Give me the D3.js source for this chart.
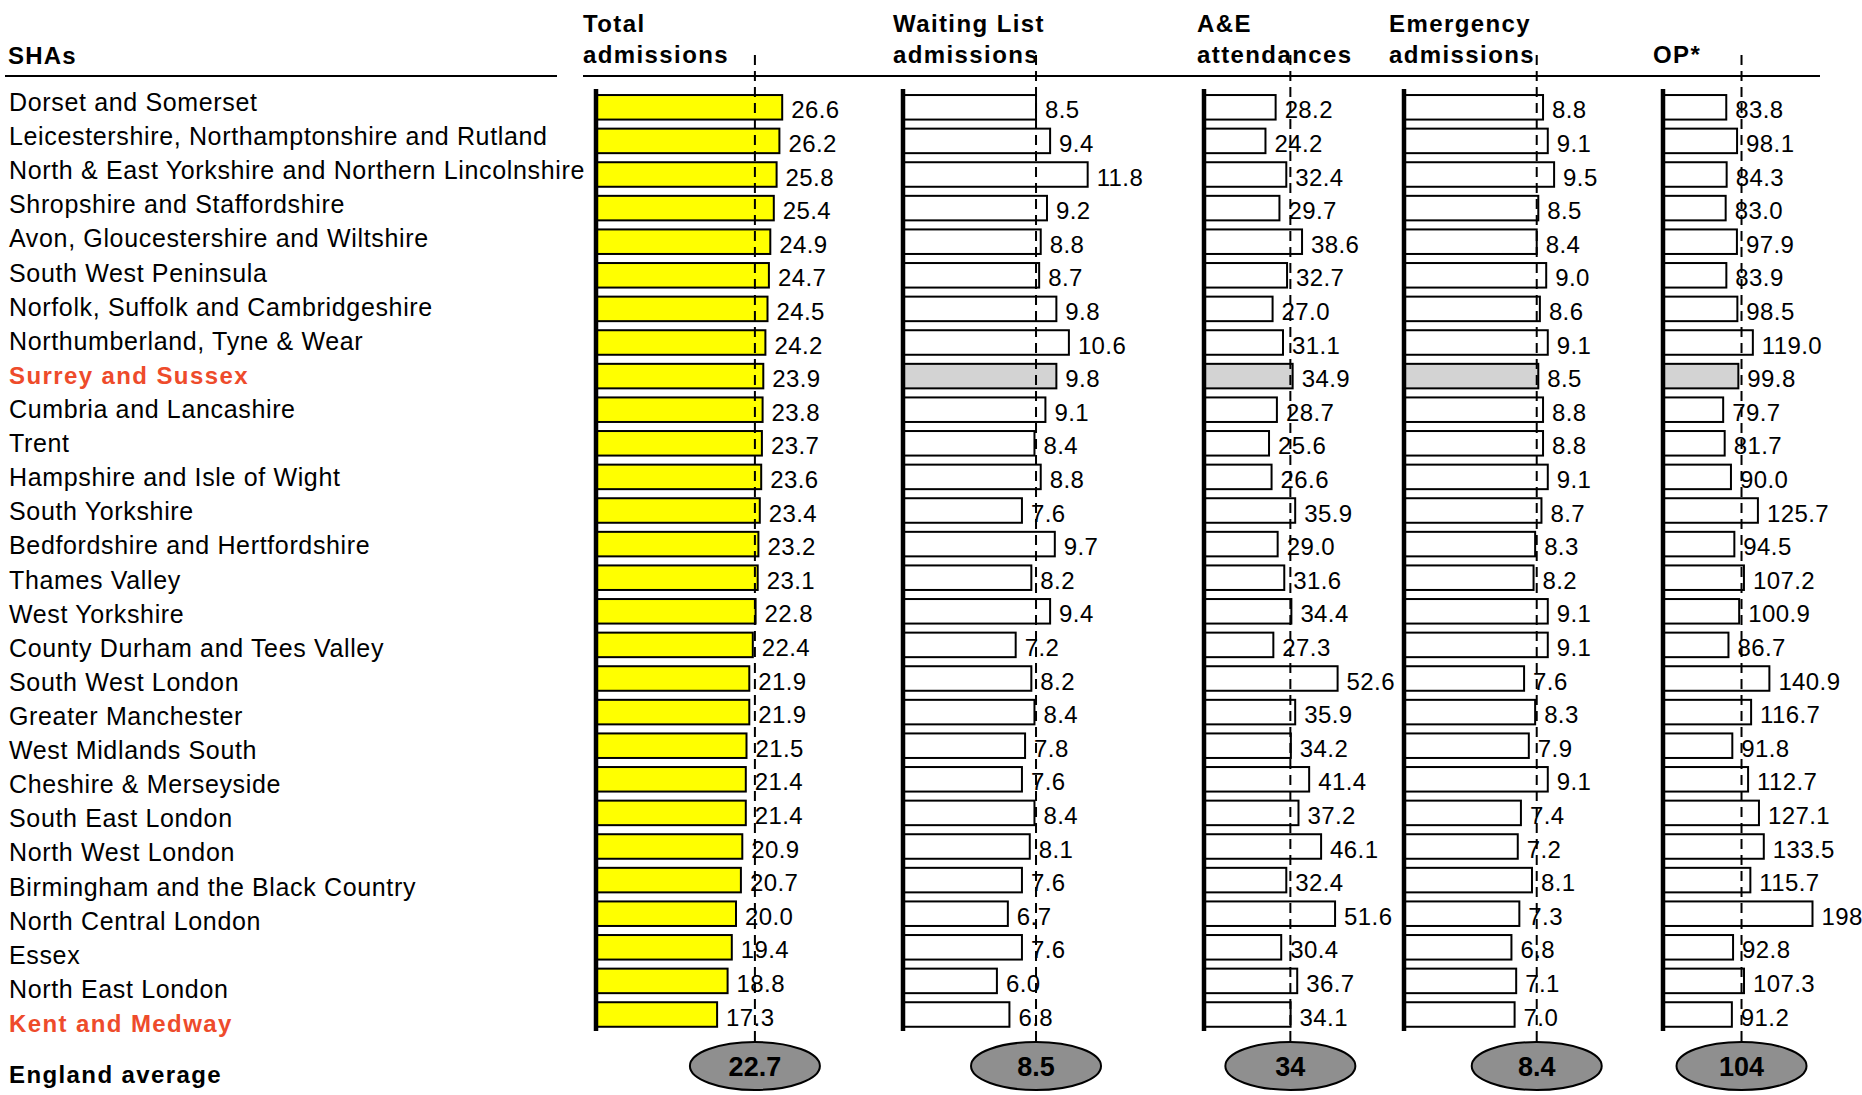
<!DOCTYPE html>
<html><head><meta charset="utf-8">
<script src="https://cdn.jsdelivr.net/npm/d3@7"></script>
<style>
html,body{margin:0;padding:0;background:#fff;overflow:hidden;}
svg text{font-family:"Liberation Sans",Arial,Helvetica,sans-serif;}
</style></head>
<body><svg id="chart" width="1862" height="1095"></svg>
<script>
const regions = ["Dorset and Somerset","Leicestershire, Northamptonshire and Rutland","North & East Yorkshire and Northern Lincolnshire","Shropshire and Staffordshire","Avon, Gloucestershire and Wiltshire","South West Peninsula","Norfolk, Suffolk and Cambridgeshire","Northumberland, Tyne & Wear","Surrey and Sussex","Cumbria and Lancashire","Trent","Hampshire and Isle of Wight","South Yorkshire","Bedfordshire and Hertfordshire","Thames Valley","West Yorkshire","County Durham and Tees Valley","South West London","Greater Manchester","West Midlands South","Cheshire & Merseyside","South East London","North West London","Birmingham and the Black Country","North Central London","Essex","North East London","Kent and Medway"];
const totalAdmissions = [26.6,26.2,25.8,25.4,24.9,24.7,24.5,24.2,23.9,23.8,23.7,23.6,23.4,23.2,23.1,22.8,22.4,21.9,21.9,21.5,21.4,21.4,20.9,20.7,20.0,19.4,18.8,17.3];
const waitingListAdmissions = [8.5,9.4,11.8,9.2,8.8,8.7,9.8,10.6,9.8,9.1,8.4,8.8,7.6,9.7,8.2,9.4,7.2,8.2,8.4,7.8,7.6,8.4,8.1,7.6,6.7,7.6,6.0,6.8];
const aeAttendances = [28.2,24.2,32.4,29.7,38.6,32.7,27.0,31.1,34.9,28.7,25.6,26.6,35.9,29.0,31.6,34.4,27.3,52.6,35.9,34.2,41.4,37.2,46.1,32.4,51.6,30.4,36.7,34.1];
const emergencyAdmissions = [8.8,9.1,9.5,8.5,8.4,9.0,8.6,9.1,8.5,8.8,8.8,9.1,8.7,8.3,8.2,9.1,9.1,7.6,8.3,7.9,9.1,7.4,7.2,8.1,7.3,6.8,7.1,7.0];
const outpatients = [83.8,98.1,84.3,83.0,97.9,83.9,98.5,119.0,99.8,79.7,81.7,90.0,125.7,94.5,107.2,100.9,86.7,140.9,116.7,91.8,112.7,127.1,133.5,115.7,198,92.8,107.3,91.2];
const englandAverages = [22.7, 8.5, 34, 8.4, 104];
const averageLabels = ["22.7","8.5","34","8.4","104"];
const panelTitles = [["Total","admissions"],["Waiting List","admissions"],["A&E","attendances"],["Emergency","admissions"],["OP*"]];
const highlightedRegions = ["Surrey and Sussex","Kent and Medway"];
const greyRegion = "Surrey and Sussex";

const svg = d3.select("#chart");
const RED = "#ee4b2b";

// vertical scales
const yBand = d3.scaleBand().domain(regions).range([90.5, 1031.3]).paddingInner(0.27).paddingOuter(0.135);
const yLabel = d3.scalePoint().domain(regions).range([111, 1032]);

const fmt = d3.format(".1f");
const fmtWide = v => (Number.isInteger(v) && v >= 150) ? String(v) : fmt(v);

const panels = [
  {values: totalAdmissions, x: d3.scaleLinear().domain([0,30]).range([596, 806]), fill: () => "#ffff00", titleX: 583},
  {values: waitingListAdmissions, x: d3.scaleLinear().domain([0,14]).range([903, 903+14*15.65]), fill: r => r===greyRegion ? "#d3d3d3" : "#fff", titleX: 893},
  {values: aeAttendances, x: d3.scaleLinear().domain([0,60]).range([1204, 1204+60*2.54]), fill: r => r===greyRegion ? "#d3d3d3" : "#fff", titleX: 1197},
  {values: emergencyAdmissions, x: d3.scaleLinear().domain([0,12]).range([1404, 1404+12*15.8]), fill: r => r===greyRegion ? "#d3d3d3" : "#fff", titleX: 1389},
  {values: outpatients, x: d3.scaleLinear().domain([0,200]).range([1663, 1663+200*0.755]), fill: r => r===greyRegion ? "#d3d3d3" : "#fff", titleX: 1653}
];

// header
svg.append("text").attr("x",8).attr("y",64).attr("font-size",24).attr("font-weight","bold").attr("letter-spacing",1.2).text("SHAs");
svg.append("line").attr("x1",5).attr("x2",557).attr("y1",76).attr("y2",76).attr("stroke","#000").attr("stroke-width",2);
svg.append("line").attr("x1",583).attr("x2",1820).attr("y1",76).attr("y2",76).attr("stroke","#000").attr("stroke-width",2);

panels.forEach((p,pi) => {
  const lines = panelTitles[pi];
  const t = svg.append("text").attr("font-size",24).attr("font-weight","bold").attr("letter-spacing",1.4);
  if (lines.length === 2) {
    t.append("tspan").attr("x",p.titleX).attr("y",32).text(lines[0]);
    t.append("tspan").attr("x",p.titleX).attr("y",63).text(lines[1]);
  } else {
    t.append("tspan").attr("x",p.titleX).attr("y",63).text(lines[0]);
  }
});

// row labels
svg.append("g").selectAll("text").data(regions).join("text")
  .attr("x",9).attr("y",d => yLabel(d))
  .attr("font-size",d => highlightedRegions.includes(d) ? 24 : 25)
  .attr("font-weight",d => highlightedRegions.includes(d) ? "bold" : "normal")
  .attr("fill",d => highlightedRegions.includes(d) ? RED : "#000")
  .attr("letter-spacing",d => highlightedRegions.includes(d) ? 1.4 : 0.65)
  .text(d => d);

panels.forEach((p,pi) => {
  const g = svg.append("g");
  const rows = regions.map((r,i) => ({r, v: p.values[i]}));
  g.selectAll("rect").data(rows).join("rect")
    .attr("x", p.x(0)).attr("y", d => yBand(d.r))
    .attr("width", d => p.x(d.v) - p.x(0)).attr("height", yBand.bandwidth())
    .attr("fill", d => p.fill(d.r)).attr("stroke","#000").attr("stroke-width",2);
  g.selectAll("text.val").data(rows).join("text").attr("class","val")
    .attr("x", d => p.x(d.v) + 9).attr("y", d => yBand(d.r) + yBand.bandwidth()/2 + 11)
    .attr("font-size",24).attr("letter-spacing",0.4)
    .text(d => fmtWide(d.v));
  // axis (thick left line)
  const ax = svg.append("g").attr("transform",`translate(${p.x(0)},0)`)
    .call(d3.axisLeft(yBand).tickSize(0).tickFormat(""));
  ax.select(".domain").attr("stroke","#000").attr("stroke-width",4.5).attr("d","M0,89V1031");
  // average dashed line
  const ax0 = p.x(englandAverages[pi]);
  svg.append("line").attr("x1",ax0).attr("x2",ax0).attr("y1",55).attr("y2",1042)
    .attr("stroke","#000").attr("stroke-width",2).attr("stroke-dasharray","10,6");
  svg.append("ellipse").attr("cx",ax0).attr("cy",1066).attr("rx",65).attr("ry",24)
    .attr("fill","#8f8f8f").attr("stroke","#000").attr("stroke-width",2);
  svg.append("text").attr("x",ax0).attr("y",1076).attr("text-anchor","middle")
    .attr("font-size",27).attr("font-weight","bold").text(averageLabels[pi]);
});

svg.append("text").attr("x",9).attr("y",1083).attr("font-size",24).attr("font-weight","bold").attr("letter-spacing",1.4).text("England average");
</script></body></html>
